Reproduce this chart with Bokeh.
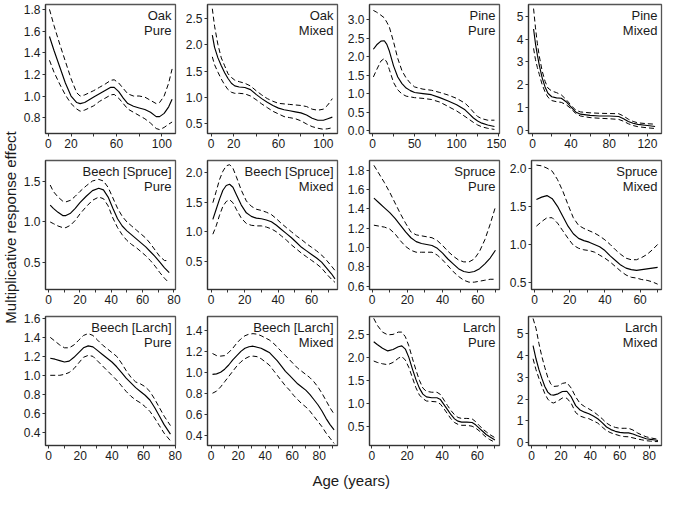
import math
from bokeh.plotting import figure
from bokeh.models import Range1d, FixedTicker, PrintfTickFormatter
from bokeh.layouts import row, column
from bokeh.embed import file_html
from bokeh.resources import INLINE
from bokeh.core.properties import value

FONT = "Liberation Sans"

# ---------------- data ----------------
# Oak, pure
oak_pure_age = [1, 5, 10, 15, 20, 25, 28, 32, 36, 40, 45, 50, 55, 58, 62, 66, 70, 75, 80, 85, 90, 95, 98, 102, 106, 109]
oak_pure_mean = [1.55, 1.42, 1.27, 1.12, 1.00, 0.94, 0.93, 0.94, 0.965, 0.99, 1.02, 1.05, 1.08, 1.08, 1.04, 0.98, 0.93, 0.905, 0.89, 0.875, 0.85, 0.81, 0.81, 0.84, 0.90, 0.97]
oak_pure_upper = [1.80, 1.65, 1.48, 1.32, 1.16, 1.03, 1.00, 1.01, 1.03, 1.05, 1.08, 1.11, 1.145, 1.15, 1.12, 1.07, 1.02, 1.00, 1.00, 0.99, 0.96, 0.93, 0.94, 1.00, 1.12, 1.25]
oak_pure_lower = [1.33, 1.22, 1.11, 1.01, 0.93, 0.88, 0.86, 0.87, 0.89, 0.91, 0.95, 0.98, 1.01, 1.015, 0.98, 0.93, 0.88, 0.85, 0.82, 0.79, 0.75, 0.70, 0.69, 0.71, 0.74, 0.76]

# Oak, mixed
oak_mixed_age = [1, 3, 6, 9, 12, 15, 18, 21, 25, 30, 35, 40, 45, 50, 55, 60, 65, 70, 75, 80, 85, 90, 95, 100, 104, 108]
oak_mixed_mean = [2.18, 1.95, 1.75, 1.60, 1.47, 1.36, 1.27, 1.22, 1.20, 1.19, 1.15, 1.06, 0.98, 0.91, 0.85, 0.80, 0.77, 0.75, 0.73, 0.71, 0.67, 0.61, 0.57, 0.57, 0.60, 0.63]
oak_mixed_upper = [2.68, 2.35, 2.00, 1.75, 1.60, 1.45, 1.38, 1.33, 1.30, 1.27, 1.22, 1.13, 1.05, 0.98, 0.93, 0.89, 0.88, 0.87, 0.86, 0.85, 0.83, 0.78, 0.76, 0.78, 0.86, 0.98]
oak_mixed_lower = [1.77, 1.62, 1.48, 1.35, 1.24, 1.15, 1.10, 1.08, 1.08, 1.07, 1.03, 0.96, 0.88, 0.81, 0.74, 0.69, 0.64, 0.62, 0.60, 0.56, 0.50, 0.45, 0.42, 0.40, 0.41, 0.43]

# Pine, pure
pine_pure_age = [1, 5, 10, 14, 17, 20, 25, 30, 35, 40, 45, 50, 60, 70, 80, 90, 100, 110, 115, 120, 125, 130, 137, 145]
pine_pure_mean = [2.20, 2.32, 2.42, 2.43, 2.33, 2.15, 1.75, 1.45, 1.27, 1.15, 1.08, 1.03, 1.00, 0.97, 0.89, 0.80, 0.70, 0.56, 0.45, 0.34, 0.26, 0.20, 0.15, 0.11]
pine_pure_upper = [3.25, 3.20, 3.12, 3.05, 2.93, 2.80, 2.40, 1.95, 1.62, 1.42, 1.28, 1.18, 1.12, 1.09, 1.03, 0.96, 0.87, 0.74, 0.63, 0.50, 0.38, 0.32, 0.28, 0.28]
pine_pure_lower = [1.45, 1.65, 1.88, 1.95, 1.85, 1.65, 1.30, 1.10, 0.99, 0.93, 0.91, 0.89, 0.87, 0.84, 0.77, 0.65, 0.53, 0.38, 0.30, 0.22, 0.15, 0.10, 0.06, 0.03]

# Pine, mixed
pine_mixed_age = [1, 3, 5, 7, 10, 13, 16, 20, 25, 30, 35, 40, 45, 50, 60, 70, 80, 90, 95, 100, 105, 110, 120, 128]
pine_mixed_mean = [4.45, 3.80, 3.30, 2.85, 2.30, 1.90, 1.62, 1.47, 1.42, 1.40, 1.25, 1.02, 0.80, 0.70, 0.65, 0.62, 0.62, 0.60, 0.50, 0.38, 0.30, 0.25, 0.20, 0.16]
pine_mixed_upper = [5.35, 4.50, 3.80, 3.25, 2.60, 2.15, 1.85, 1.72, 1.65, 1.55, 1.35, 1.10, 0.88, 0.80, 0.76, 0.74, 0.73, 0.72, 0.62, 0.48, 0.38, 0.32, 0.28, 0.26]
pine_mixed_lower = [3.60, 3.10, 2.75, 2.45, 2.00, 1.68, 1.45, 1.30, 1.25, 1.22, 1.12, 0.95, 0.73, 0.62, 0.55, 0.52, 0.50, 0.47, 0.39, 0.28, 0.20, 0.15, 0.10, 0.07]

# Beech [Spruce], pure
beech_spruce_pure_age = [1, 3, 6, 9, 11, 14, 17, 20, 24, 28, 32, 35, 38, 41, 44, 47, 50, 53, 56, 59, 62, 65, 68, 71, 74, 77]
beech_spruce_pure_mean = [1.21, 1.17, 1.12, 1.08, 1.08, 1.11, 1.17, 1.24, 1.32, 1.39, 1.42, 1.40, 1.31, 1.17, 1.04, 0.95, 0.89, 0.84, 0.79, 0.74, 0.69, 0.63, 0.57, 0.50, 0.43, 0.37]
beech_spruce_pure_upper = [1.46, 1.38, 1.31, 1.26, 1.25, 1.27, 1.32, 1.38, 1.45, 1.51, 1.53, 1.51, 1.43, 1.30, 1.17, 1.07, 1.00, 0.95, 0.90, 0.85, 0.80, 0.73, 0.65, 0.57, 0.52, 0.52]
beech_spruce_pure_lower = [1.00, 0.98, 0.95, 0.93, 0.93, 0.96, 1.02, 1.10, 1.19, 1.27, 1.31, 1.29, 1.20, 1.05, 0.93, 0.84, 0.77, 0.72, 0.68, 0.63, 0.58, 0.52, 0.45, 0.37, 0.30, 0.24]

# Beech [Spruce], mixed
beech_spruce_mixed_age = [1, 3, 5, 7, 9, 11, 13, 15, 18, 21, 24, 27, 30, 33, 36, 39, 42, 45, 48, 51, 54, 57, 60, 63, 66, 69, 72, 74]
beech_spruce_mixed_mean = [1.21, 1.38, 1.55, 1.70, 1.78, 1.80, 1.75, 1.63, 1.45, 1.32, 1.26, 1.23, 1.22, 1.20, 1.17, 1.11, 1.04, 0.97, 0.90, 0.82, 0.74, 0.68, 0.62, 0.56, 0.49, 0.39, 0.29, 0.21]
beech_spruce_mixed_upper = [1.49, 1.68, 1.88, 2.02, 2.11, 2.13, 2.07, 1.93, 1.70, 1.52, 1.43, 1.38, 1.36, 1.33, 1.29, 1.22, 1.14, 1.07, 1.00, 0.93, 0.87, 0.80, 0.74, 0.68, 0.61, 0.52, 0.42, 0.35]
beech_spruce_mixed_lower = [0.96, 1.10, 1.28, 1.43, 1.51, 1.54, 1.49, 1.38, 1.23, 1.14, 1.11, 1.10, 1.10, 1.08, 1.05, 1.00, 0.93, 0.86, 0.78, 0.71, 0.64, 0.58, 0.52, 0.46, 0.39, 0.29, 0.20, 0.15]

# Spruce, pure
spruce_pure_age = [1, 4, 7, 10, 13, 16, 19, 22, 25, 28, 31, 34, 37, 40, 43, 46, 49, 52, 55, 58, 61, 64, 67, 70]
spruce_pure_mean = [1.51, 1.46, 1.41, 1.36, 1.30, 1.23, 1.16, 1.10, 1.06, 1.04, 1.03, 1.02, 0.99, 0.94, 0.88, 0.83, 0.78, 0.75, 0.74, 0.75, 0.78, 0.83, 0.89, 0.97]
spruce_pure_upper = [1.85, 1.76, 1.67, 1.57, 1.46, 1.35, 1.25, 1.16, 1.13, 1.12, 1.11, 1.10, 1.07, 1.02, 0.96, 0.91, 0.87, 0.85, 0.85, 0.88, 0.96, 1.08, 1.24, 1.42]
spruce_pure_lower = [1.23, 1.22, 1.21, 1.19, 1.14, 1.07, 1.01, 0.97, 0.95, 0.95, 0.95, 0.95, 0.92, 0.87, 0.81, 0.75, 0.70, 0.66, 0.64, 0.64, 0.65, 0.66, 0.67, 0.67]

# Spruce, mixed
spruce_mixed_age = [1, 4, 7, 10, 13, 16, 19, 22, 25, 28, 31, 34, 37, 40, 43, 46, 49, 52, 55, 58, 61, 64, 67, 70]
spruce_mixed_mean = [1.59, 1.62, 1.64, 1.60, 1.50, 1.37, 1.24, 1.14, 1.08, 1.05, 1.03, 1.00, 0.97, 0.92, 0.85, 0.79, 0.73, 0.69, 0.67, 0.66, 0.67, 0.68, 0.69, 0.70]
spruce_mixed_upper = [2.04, 2.03, 2.00, 1.96, 1.85, 1.70, 1.52, 1.35, 1.25, 1.21, 1.18, 1.15, 1.11, 1.06, 1.00, 0.93, 0.87, 0.82, 0.80, 0.80, 0.83, 0.87, 0.93, 1.00]
spruce_mixed_lower = [1.24, 1.30, 1.35, 1.35, 1.28, 1.18, 1.08, 0.99, 0.95, 0.93, 0.92, 0.90, 0.86, 0.82, 0.77, 0.71, 0.65, 0.60, 0.57, 0.56, 0.54, 0.53, 0.51, 0.48]

# Beech [Larch], pure
beech_larch_pure_age = [1, 4, 7, 10, 13, 16, 19, 22, 25, 28, 31, 34, 37, 40, 43, 46, 49, 52, 55, 58, 61, 64, 67, 70, 73, 77]
beech_larch_pure_mean = [1.18, 1.17, 1.155, 1.14, 1.15, 1.19, 1.24, 1.29, 1.31, 1.30, 1.26, 1.22, 1.18, 1.14, 1.09, 1.03, 0.97, 0.92, 0.87, 0.83, 0.79, 0.74, 0.66, 0.57, 0.48, 0.38]
beech_larch_pure_upper = [1.40, 1.36, 1.32, 1.29, 1.29, 1.32, 1.37, 1.42, 1.44, 1.42, 1.37, 1.32, 1.28, 1.24, 1.20, 1.13, 1.05, 0.98, 0.93, 0.91, 0.88, 0.83, 0.75, 0.66, 0.57, 0.47]
beech_larch_pure_lower = [1.00, 1.00, 1.00, 1.01, 1.03, 1.07, 1.13, 1.19, 1.21, 1.20, 1.15, 1.10, 1.05, 1.00, 0.95, 0.89, 0.83, 0.78, 0.74, 0.71, 0.67, 0.62, 0.55, 0.47, 0.39, 0.31]

# Beech [Larch], mixed
beech_larch_mixed_age = [1, 4, 7, 10, 13, 16, 19, 22, 25, 28, 31, 34, 37, 40, 43, 46, 49, 52, 55, 58, 61, 64, 67, 70, 73, 76, 79, 82, 85, 88, 91]
beech_larch_mixed_mean = [0.98, 0.985, 1.00, 1.03, 1.07, 1.12, 1.16, 1.20, 1.23, 1.245, 1.25, 1.24, 1.23, 1.21, 1.19, 1.15, 1.11, 1.06, 1.01, 0.97, 0.93, 0.89, 0.86, 0.83, 0.79, 0.74, 0.69, 0.63, 0.56, 0.50, 0.45]
beech_larch_mixed_upper = [1.18, 1.16, 1.155, 1.16, 1.19, 1.23, 1.28, 1.32, 1.35, 1.365, 1.37, 1.365, 1.35, 1.33, 1.31, 1.28, 1.24, 1.20, 1.16, 1.12, 1.08, 1.04, 1.01, 0.98, 0.95, 0.91, 0.86, 0.80, 0.73, 0.66, 0.60]
beech_larch_mixed_lower = [0.80, 0.82, 0.86, 0.91, 0.96, 1.01, 1.06, 1.10, 1.13, 1.15, 1.155, 1.15, 1.13, 1.10, 1.07, 1.02, 0.97, 0.92, 0.87, 0.83, 0.78, 0.74, 0.70, 0.67, 0.63, 0.58, 0.53, 0.48, 0.42, 0.37, 0.32]

# Larch, pure
larch_pure_age = [1, 3, 6, 9, 12, 15, 17, 19, 21, 23, 25, 27, 29, 31, 34, 37, 39, 41, 43, 45, 47, 49, 51, 54, 57, 59, 61, 63, 65, 67, 70]
larch_pure_mean = [2.34, 2.28, 2.20, 2.14, 2.17, 2.23, 2.25, 2.18, 2.00, 1.75, 1.52, 1.33, 1.20, 1.14, 1.12, 1.12, 1.08, 0.97, 0.86, 0.75, 0.66, 0.61, 0.59, 0.59, 0.58, 0.53, 0.46, 0.39, 0.32, 0.27, 0.20]
larch_pure_upper = [2.85, 2.70, 2.55, 2.49, 2.50, 2.55, 2.55, 2.45, 2.25, 1.98, 1.73, 1.50, 1.33, 1.26, 1.24, 1.24, 1.19, 1.07, 0.95, 0.84, 0.75, 0.69, 0.67, 0.67, 0.66, 0.60, 0.52, 0.44, 0.38, 0.32, 0.25]
larch_pure_lower = [1.92, 1.89, 1.86, 1.84, 1.89, 1.98, 2.02, 1.94, 1.78, 1.56, 1.34, 1.18, 1.10, 1.05, 1.04, 1.03, 0.98, 0.88, 0.77, 0.66, 0.58, 0.54, 0.52, 0.52, 0.50, 0.46, 0.40, 0.33, 0.26, 0.21, 0.15]

# Larch, mixed
larch_mixed_age = [1, 3, 5, 7, 9, 11, 13, 15, 18, 21, 24, 27, 30, 33, 36, 39, 42, 45, 48, 51, 54, 57, 60, 63, 66, 69, 72, 75, 78, 81, 84, 86]
larch_mixed_mean = [4.45, 3.85, 3.35, 2.95, 2.58, 2.32, 2.20, 2.18, 2.24, 2.35, 2.36, 2.10, 1.70, 1.50, 1.40, 1.33, 1.22, 1.10, 0.92, 0.72, 0.60, 0.52, 0.47, 0.45, 0.45, 0.40, 0.32, 0.25, 0.18, 0.15, 0.12, 0.10]
larch_mixed_upper = [5.70, 5.25, 4.55, 3.95, 3.45, 3.00, 2.70, 2.58, 2.60, 2.72, 2.76, 2.50, 2.10, 1.80, 1.66, 1.55, 1.43, 1.27, 1.10, 0.90, 0.77, 0.70, 0.66, 0.66, 0.66, 0.58, 0.45, 0.35, 0.27, 0.22, 0.18, 0.16]
larch_mixed_lower = [3.85, 3.35, 2.95, 2.60, 2.25, 2.00, 1.86, 1.82, 1.92, 2.05, 2.04, 1.80, 1.38, 1.22, 1.15, 1.10, 1.00, 0.90, 0.72, 0.55, 0.45, 0.38, 0.32, 0.28, 0.27, 0.22, 0.17, 0.13, 0.09, 0.07, 0.05, 0.05]

# panel titles
species = ["Oak", "Oak", "Pine", "Pine",
           "Beech [Spruce]", "Beech [Spruce]", "Spruce", "Spruce",
           "Beech [Larch]", "Beech [Larch]", "Larch", "Larch"]
stand = ["Pure", "Mixed", "Pure", "Mixed",
         "Pure", "Mixed", "Pure", "Mixed",
         "Pure", "Mixed", "Pure", "Mixed"]

# tick values
y_ticks = [
    [0.8, 1.0, 1.2, 1.4, 1.6, 1.8], [0.5, 1.0, 1.5, 2.0, 2.5],
    [0.0, 0.5, 1.0, 1.5, 2.0, 2.5, 3.0], [0, 1, 2, 3, 4, 5],
    [0.5, 1.0, 1.5], [0.5, 1.0, 1.5, 2.0],
    [0.6, 0.8, 1.0, 1.2, 1.4, 1.6, 1.8], [0.5, 1.0, 1.5, 2.0],
    [0.4, 0.6, 0.8, 1.0, 1.2, 1.4, 1.6], [0.4, 0.6, 0.8, 1.0, 1.2, 1.4],
    [0.5, 1.0, 1.5, 2.0, 2.5], [0, 1, 2, 3, 4, 5],
]
y_fmt = ["%.1f", "%.1f", "%.1f", "%d", "%.1f", "%.1f", "%.1f", "%.1f", "%.1f", "%.1f", "%.1f", "%d"]
x_major = [
    [0, 20, 60, 100], [0, 20, 60, 100], [0, 50, 100, 150], [0, 40, 80, 120],
    [0, 20, 40, 60, 80], [0, 20, 40, 60], [0, 20, 40, 60], [0, 20, 40, 60],
    [0, 20, 40, 60, 80], [0, 20, 40, 60, 80], [0, 20, 40, 60], [0, 20, 40, 60, 80],
]
x_minor = [
    [40, 80], [40, 80], [25, 75, 125], [20, 60, 100],
    [10, 30, 50, 70], [10, 30, 50, 70], [10, 30, 50, 70], [10, 30, 50, 70],
    [10, 30, 50, 70], [10, 30, 50, 70, 90], [10, 30, 50, 70], [10, 30, 50, 70],
]
x_ranges = [(-2.5, 112), (-3.3, 112.6), (-3.6, 151), (-4.3, 134.7),
            (-2, 81), (-2.2, 75.5), (-1.5, 72.3), (-1.8, 72.2),
            (-2, 80.2), (-2.7, 93.5), (-1.4, 72.6), (-2.1, 88.4)]
y_ranges = [(0.654, 1.845), (0.32, 2.76), (-0.08, 3.41), (-0.15, 5.53),
            (0.16, 1.765), (0.03, 2.2), (0.564, 1.90), (0.41, 2.10),
            (0.26, 1.62), (0.30, 1.534), (0.08, 2.89), (-0.13, 5.79)]

series = [
    (oak_pure_age, oak_pure_mean, oak_pure_upper, oak_pure_lower),
    (oak_mixed_age, oak_mixed_mean, oak_mixed_upper, oak_mixed_lower),
    (pine_pure_age, pine_pure_mean, pine_pure_upper, pine_pure_lower),
    (pine_mixed_age, pine_mixed_mean, pine_mixed_upper, pine_mixed_lower),
    (beech_spruce_pure_age, beech_spruce_pure_mean, beech_spruce_pure_upper, beech_spruce_pure_lower),
    (beech_spruce_mixed_age, beech_spruce_mixed_mean, beech_spruce_mixed_upper, beech_spruce_mixed_lower),
    (spruce_pure_age, spruce_pure_mean, spruce_pure_upper, spruce_pure_lower),
    (spruce_mixed_age, spruce_mixed_mean, spruce_mixed_upper, spruce_mixed_lower),
    (beech_larch_pure_age, beech_larch_pure_mean, beech_larch_pure_upper, beech_larch_pure_lower),
    (beech_larch_mixed_age, beech_larch_mixed_mean, beech_larch_mixed_upper, beech_larch_mixed_lower),
    (larch_pure_age, larch_pure_mean, larch_pure_upper, larch_pure_lower),
    (larch_mixed_age, larch_mixed_mean, larch_mixed_upper, larch_mixed_lower),
]

# ---------------- layout constants ----------------
B_LEFT, B_RIGHT, B_TOP, B_BOTTOM = 22, 7, 4, 23
FIG_W, FIG_H = 162, 156
YLAB_W, XLAB_H = 20, 22
TXT = "#1a1a1a"


def make_panel(i):
    age, mean, upper, lower = series[i]
    xr, yr = x_ranges[i], y_ranges[i]
    p = figure(width=FIG_W, height=FIG_H, x_range=Range1d(*xr), y_range=Range1d(*yr),
               toolbar_location=None, output_backend="svg",
               min_border_left=B_LEFT, min_border_right=B_RIGHT,
               min_border_top=B_TOP, min_border_bottom=B_BOTTOM)
    p.background_fill_color = "white"
    p.border_fill_color = "white"
    p.outline_line_color = "#555555"
    p.outline_line_width = 1.3
    p.xgrid.visible = False
    p.ygrid.visible = False

    p.line(age, upper, line_color="black", line_width=1.0, line_dash="5 3")
    p.line(age, lower, line_color="black", line_width=1.0, line_dash="5 3")
    p.line(age, mean, line_color="black", line_width=1.15)

    p.xaxis.ticker = FixedTicker(ticks=x_major[i], minor_ticks=x_minor[i])
    p.yaxis.ticker = FixedTicker(ticks=y_ticks[i], minor_ticks=[])
    p.yaxis.formatter = PrintfTickFormatter(format=y_fmt[i])
    for ax in (p.xaxis[0], p.yaxis[0]):
        ax.axis_line_color = "#333333"
        ax.axis_line_width = 1.2
        ax.major_tick_line_color = "#333333"
        ax.minor_tick_line_color = "#333333"
        ax.major_tick_out = 3
        ax.major_tick_in = 0
        ax.minor_tick_out = 3
        ax.minor_tick_in = 0
        ax.major_label_text_font = FONT
        ax.major_label_text_font_size = "12px"
        ax.major_label_text_color = TXT
        ax.major_label_standoff = 2

    # two-line panel title, anchored at the top-right corner of the frame
    p.text(x=[xr[1], xr[1]], y=[yr[1], yr[1]], text=[species[i], stand[i]],
           x_offset=[-4, -4], y_offset=[3, 18],
           text_align="right", text_baseline="top", text_font=value(FONT),
           text_font_style="normal", text_font_size="13px", text_color=TXT)
    return p


panels = [make_panel(i) for i in range(12)]
grid = column(row(*panels[0:4]), row(*panels[4:8]), row(*panels[8:12]))

# shared axis titles
ylab = figure(width=YLAB_W, height=3 * FIG_H, x_range=Range1d(0, 1), y_range=Range1d(0, 1),
              toolbar_location=None, output_backend="svg", min_border=0,
              x_axis_location=None, y_axis_location=None)
ylab.outline_line_color = None
ylab.grid.visible = False
ylab.text(x=[0.5], y=[0.515], text=["Multiplicative response effect"], angle=math.pi / 2,
          text_align="center", text_baseline="middle", text_font=value(FONT),
          text_font_size="15px", text_color=TXT)

xlab = figure(width=YLAB_W + 4 * FIG_W, height=XLAB_H, x_range=Range1d(0, 1), y_range=Range1d(0, 1),
              toolbar_location=None, output_backend="svg", min_border=0,
              x_axis_location=None, y_axis_location=None)
xlab.outline_line_color = None
xlab.grid.visible = False
xlab.text(x=[0.525], y=[0.45], text=["Age (years)"], text_align="center",
          text_baseline="middle", text_font=value(FONT), text_font_size="15px", text_color=TXT)

layout = column(row(ylab, grid), xlab)

open("out.html", "w").write(file_html(layout, INLINE))
